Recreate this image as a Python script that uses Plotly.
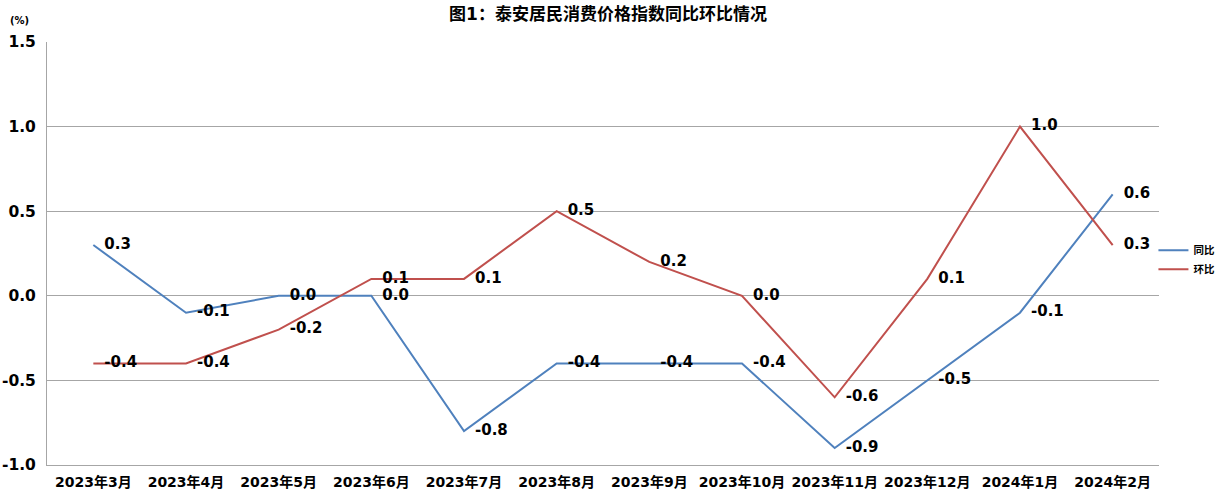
import plotly.graph_objects as go

months = ["2023年3月", "2023年4月", "2023年5月", "2023年6月", "2023年7月", "2023年8月",
          "2023年9月", "2023年10月", "2023年11月", "2023年12月", "2024年1月", "2024年2月"]
yoy = [0.3, -0.1, 0.0, 0.0, -0.8, -0.4, -0.4, -0.4, -0.9, -0.5, -0.1, 0.6]
mom = [-0.4, -0.4, -0.2, 0.1, 0.1, 0.5, 0.2, 0.0, -0.6, 0.1, 1.0, 0.3]
y_ticks = [-1.0, -0.5, 0.0, 0.5, 1.0, 1.5]

FONT = "DejaVu Sans, Noto Sans CJK SC, sans-serif"

fig = go.Figure()
for name, vals, color in [("同比", yoy, "#4F81BD"), ("环比", mom, "#C0504D")]:
    fig.add_trace(go.Scatter(
        x=months, y=vals, name=name, mode="lines+markers+text",
        line=dict(color=color, width=2),
        marker=dict(size=16, color="rgba(0,0,0,0)"),
        text=[f"{v:.1f}" for v in vals], textposition="middle right",
        textfont=dict(family=FONT, size=15, color="black", weight="bold"),
    ))

fig.update_layout(
    width=1216, height=500,
    margin=dict(l=47, r=57, t=42, b=35, autoexpand=False),
    paper_bgcolor="white", plot_bgcolor="white",
    font=dict(family=FONT, color="black"),
    title=dict(text="图1：泰安居民消费价格指数同比环比情况", x=0.5, xanchor="center",
               y=0.972, yanchor="middle", yref="container",
               font=dict(family=FONT, size=17, color="black", weight="bold")),
    legend=dict(x=0.995, xanchor="left", y=0.485, yanchor="middle",
                font=dict(family=FONT, size=10.5, color="black", weight="bold"),
                bgcolor="rgba(0,0,0,0)", tracegroupgap=0),
    showlegend=True,
)
fig.update_xaxes(
    type="category", showgrid=False, showline=True, linecolor="#A6A6A6", linewidth=1,
    ticks="", tickfont=dict(family=FONT, size=14, color="black", weight="bold"),
    range=[-0.5, 11.5], automargin=False, ticklabelstandoff=4,
)
fig.update_yaxes(
    range=[-1.0, 1.5], tickvals=y_ticks, ticktext=[f"{v:.1f}" for v in y_ticks],
    showgrid=True, gridcolor="#A6A6A6", gridwidth=1,
    showline=True, linecolor="#A6A6A6", linewidth=1, zeroline=False,
    tickfont=dict(family=FONT, size=15.5, color="black", weight="bold"),
    ticks="", ticklabelstandoff=7, automargin=False,
)
fig.add_annotation(text="(%)", xref="paper", yref="paper", x=-0.025, y=1.05,
                   xanchor="center", yanchor="middle", showarrow=False,
                   font=dict(family=FONT, size=10, color="black", weight="bold"))

fig.write_html("out.html", config={"displayModeBar": False},
               post_script="document.body.style.margin='0';")
